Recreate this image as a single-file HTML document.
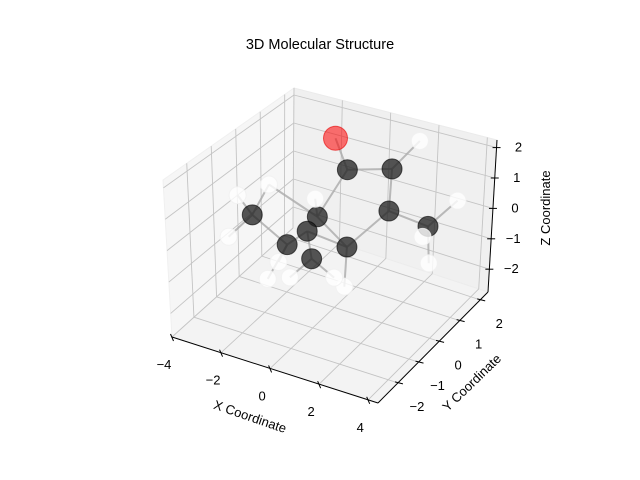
<!DOCTYPE html>
<html><head><meta charset="utf-8"><style>
body{margin:0;background:#fff;}
svg{display:block;font-family:"Liberation Sans",sans-serif;}
</style></head><body>
<svg id="chart" width="640" height="480" viewBox="0 0 640 480">
<rect width="640" height="480" fill="#fff"/>
<text x="320" y="49" text-anchor="middle" font-size="14.5">3D Molecular Structure</text>
<g id="panes"></g>
<g id="grid"></g>
<g id="axes"></g>
<g id="bonds"></g>
<g id="atoms"></g>
<text x="250" y="421" text-anchor="middle" font-size="13" transform="rotate(19 250 417)">X Coordinate</text>
<text x="472" y="387" text-anchor="middle" font-size="13" transform="rotate(-44 472 383)">Y Coordinate</text>
<text x="550" y="208" text-anchor="middle" font-size="13" transform="rotate(-90 550 208)">Z Coordinate</text>
</svg>
<script>
const atomX = [-0.96,-0.46,1.37,-2.58,0.08,1.28,-0.34,2.91,-1.17,1.28,-0.17, 1.49,-3.16,-1.87,0.0,3.15,-3.58,2.7,-1.54,-2.0,-1.08,1.17,2.99,0.75];
const atomY = [1.04,1.04,1.04,-0.83,-0.83,1.04,-0.83,1.04,-0.83,-0.83,-0.83, 2.11,-0.83,-0.83,-0.83,2.11,-0.83,1.04,-0.83,-0.83,-0.83,-0.83,1.04,-0.83];
const atomZ = [2.0,1.05,1.49,0.21,0.78,0.07,0.21,-0.06,-0.43,0.08,-0.65, 1.78,0.72,1.38,1.35,0.15,-0.76,-0.45,-1.09,-1.76,-1.48,-1.23,-1.25,-1.04];
const atomEl = ["O","C","C","C","C","C","C","C","C","C","C","H","H","H","H","H","H","H","H","H","H","H","H","H"];
const bondA = [0,1,1,2,2,5,5,7,7,3,3,3,3,8,8,8,4,4,4,10,10,9,9,6];
const bondB = [1,2,4,11,5,9,7,15,22,12,13,16,8,6,18,19,13,14,9,20,23,21,6,10];
const xTicks = [-4,-2,0,2,4];
const yTicks = [-2,-1,0,1,2];
const zTicks = [-2,-1,0,1,2];
const XR=[-4,4.4], YR=[-2.97,2.38], ZR=[-2.75,2.25];
const C={ '000':[172,337],'100':[378,403],'110':[488,292],'010':[293,228],
          '001':[163,180],'101':[376,243],'111':[497,140],'011':[294,88]};
function lerp(a,b,t){return [a[0]+(b[0]-a[0])*t,a[1]+(b[1]-a[1])*t];}
function projF(u,v,w){
  const b0=lerp(lerp(C['000'],C['100'],u),lerp(C['010'],C['110'],u),v);
  const b1=lerp(lerp(C['001'],C['101'],u),lerp(C['011'],C['111'],u),v);
  return lerp(b0,b1,w);
}
function fx(x){return (x-XR[0])/(XR[1]-XR[0]);}
function fy(y){return (y-YR[0])/(YR[1]-YR[0]);}
function fz(z){return (z-ZR[0])/(ZR[1]-ZR[0]);}
function proj(x,y,z){return projF(fx(x),fy(y),fz(z));}
const NS="http://www.w3.org/2000/svg";
function mk(tag,attrs,parent){const e=document.createElementNS(NS,tag);for(const k in attrs)e.setAttribute(k,attrs[k]);parent.appendChild(e);return e;}
function poly(pts){return pts.map(p=>p[0].toFixed(1)+','+p[1].toFixed(1)).join(' ');}
const panes=document.getElementById('panes');
let p;
p=mk('polygon',{points:poly([C['000'],C['010'],C['011'],C['001']]),fill:'#f6f6f6',stroke:'#f0f0f0'},panes);


p=mk('polygon',{points:poly([C['010'],C['110'],C['111'],C['011']]),fill:'#f0f0f0',stroke:'#ebebeb'},panes);


p=mk('polygon',{points:poly([C['000'],C['100'],C['110'],C['010']]),fill:'#f3f3f3',stroke:'#ececec'},panes);


const grid=document.getElementById('grid');
function gl(a,b){const l=mk('line',{x1:a[0],y1:a[1],x2:b[0],y2:b[1],stroke:'#c4c4c4','stroke-width':0.9},grid);

}
xTicks.forEach(t=>{gl(proj(t,YR[0],ZR[0]),proj(t,YR[1],ZR[0]));gl(proj(t,YR[1],ZR[0]),proj(t,YR[1],ZR[1]));});
yTicks.forEach(t=>{gl(proj(XR[0],t,ZR[0]),proj(XR[1],t,ZR[0]));gl(proj(XR[0],t,ZR[0]),proj(XR[0],t,ZR[1]));});
zTicks.forEach(t=>{gl(proj(XR[0],YR[0],t),proj(XR[0],YR[1],t));gl(proj(XR[0],YR[1],t),proj(XR[1],YR[1],t));});
const axes=document.getElementById('axes');
function al(a,b,name){const l=mk('line',{x1:a[0],y1:a[1],x2:b[0],y2:b[1],stroke:'#000','stroke-width':1},axes);

}
function tl(x,y,s,name){const t=mk('text',{x:x,y:y,'font-size':13,'text-anchor':'middle'},axes);t.textContent=s;

}
function lbl(v){return v<0?'\u2212'+Math.abs(v):String(v);}
al(proj(XR[0],YR[0],ZR[0]),proj(XR[1],YR[0],ZR[0]),'x-axis-line');
al(proj(XR[1],YR[0],ZR[0]),proj(XR[1],YR[1],ZR[0]),'y-axis-line');
al(proj(XR[1],YR[1],ZR[0]),proj(XR[1],YR[1],ZR[1]),'z-axis-line');
xTicks.forEach(t=>{const a=proj(t,YR[0],ZR[0]);al([a[0]-1.5,a[1]-3],[a[0]+1.5,a[1]+4],'x-tick');tl(a[0]-8,a[1]+32,lbl(t),'x-tick-label');});
yTicks.forEach(t=>{const a=proj(XR[1],t,ZR[0]);al([a[0]-3,a[1]-1],[a[0]+5,a[1]+1],'y-tick');tl(a[0]+19,a[1]+28,lbl(t),'y-tick-label');});
zTicks.forEach(t=>{const a=proj(XR[1],YR[1],t);al([a[0]-4,a[1]],[a[0]+4,a[1]],'z-tick');tl(a[0]+22,a[1]+4,lbl(t),'z-tick-label');});
const bonds=document.getElementById('bonds');
bondA.forEach((a,i)=>{const b=bondB[i];const pa=proj(atomX[a],atomY[a],atomZ[a]),pb=proj(atomX[b],atomY[b],atomZ[b]);
const l=mk('line',{x1:pa[0],y1:pa[1],x2:pb[0],y2:pb[1],stroke:'#aaa','stroke-width':2,'stroke-opacity':0.8},bonds);

});
const atomsG=document.getElementById('atoms');
const style={O:{f:'rgba(255,0,0,0.55)',s:'rgba(230,0,0,0.6)',r:12},C:{f:'rgba(30,30,30,0.75)',s:'rgba(0,0,0,0.6)',r:10},H:{f:'rgba(255,255,255,0.8)',s:'rgba(240,240,240,0.8)',r:8.5}};
const order=atomX.map((_,i)=>i).sort((a,b)=>atomY[b]-atomY[a]);
order.forEach(i=>{const q=proj(atomX[i],atomY[i],atomZ[i]);const st=style[atomEl[i]];
const c=mk('circle',{cx:q[0],cy:q[1],r:st.r,fill:st.f,stroke:st.s,'stroke-width':1},atomsG);

});
</script>
</body></html>
